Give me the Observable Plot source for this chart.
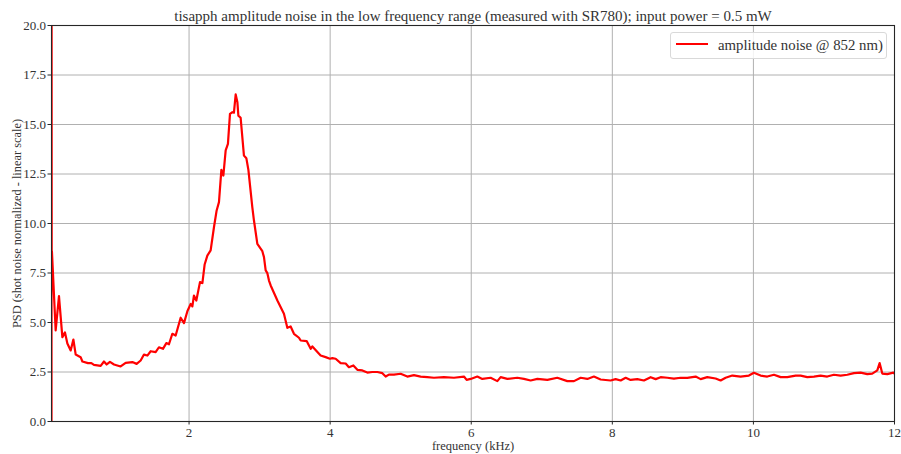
<!DOCTYPE html>
<html>
<head>
<meta charset="utf-8">
<script src="https://cdn.jsdelivr.net/npm/d3@7"></script>
<script src="https://cdn.jsdelivr.net/npm/@observablehq/plot@0.6"></script>
<style>
  html, body { margin: 0; padding: 0; background: #fff; }
  #wrap { position: relative; width: 901px; height: 454px; font-family: 'Liberation Serif', serif; }
  #wrap svg, #wrap svg text { font-family: 'Liberation Serif', serif !important; }
  #legend { position: absolute; left: 670px; top: 32px; width: 217px; height: 27px; box-sizing: border-box;
            border: 1px solid #d9d9d9; border-radius: 3px; background: rgba(255,255,255,0.85);
            font-family: 'Liberation Serif', serif; font-size: 14.8px; color: #333; }
  #legend .sw { position: absolute; left: 5px; top: 10px; width: 32px; height: 2.2px; background: #ff0000; }
  #legend .lb { position: absolute; left: 47px; top: 4px; white-space: nowrap; }
</style>
</head>
<body>
<div id="wrap"></div>
<script>
const title = "tisapph amplitude noise in the low frequency range (measured with SR780); input power = 0.5 mW";
const xLabel = "frequency (kHz)";
const yLabel = "PSD (shot noise normalized - linear scale)";
const seriesName = "amplitude noise @ 852 nm)";
const xTicks = [2, 4, 6, 8, 10, 12];
const yTicks = [0, 2.5, 5, 7.5, 10, 12.5, 15, 17.5, 20];

const freq = [
  0.050, 0.051, 0.053, 0.056, 0.109, 0.156, 0.204, 0.241, 0.275, 0.322, 0.360, 0.393, 0.463, 0.488,
  0.567, 0.615, 0.652, 0.747, 0.794, 0.832, 0.879, 0.936, 1.030, 1.101, 1.196, 1.257, 1.314, 1.361,
  1.409, 1.456, 1.526, 1.573, 1.630, 1.678, 1.715, 1.763, 1.810, 1.881, 1.928, 1.976, 2.023, 2.047,
  2.069, 2.103, 2.155, 2.189, 2.221, 2.259, 2.306, 2.353, 2.391, 2.424, 2.458, 2.486, 2.519, 2.551,
  2.580, 2.614, 2.636, 2.661, 2.685, 2.699, 2.731, 2.778, 2.812, 2.841, 2.897, 2.920, 2.968, 3.039,
  3.062, 3.086, 3.110, 3.133, 3.157, 3.252, 3.345, 3.393, 3.440, 3.487, 3.558, 3.582, 3.667, 3.724,
  3.748, 3.865, 3.936, 3.997, 4.031, 4.078, 4.149, 4.220, 4.266, 4.329, 4.386, 4.456, 4.527, 4.598,
  4.669, 4.740, 4.787, 4.833, 4.904, 4.999, 5.094, 5.188, 5.283, 5.378, 5.471, 5.613, 5.755, 5.897,
  5.935, 5.992, 6.086, 6.157, 6.275, 6.370, 6.417, 6.512, 6.653, 6.747, 6.842, 6.937, 7.079, 7.220,
  7.362, 7.456, 7.551, 7.646, 7.739, 7.834, 7.976, 8.047, 8.118, 8.189, 8.259, 8.354, 8.448, 8.543,
  8.614, 8.685, 8.780, 8.873, 8.968, 9.063, 9.181, 9.252, 9.346, 9.464, 9.535, 9.606, 9.701, 9.818,
  9.936, 10.007, 10.102, 10.197, 10.291, 10.386, 10.480, 10.598, 10.669, 10.764, 10.858, 10.952,
  11.047, 11.141, 11.236, 11.331, 11.425, 11.520, 11.614, 11.685, 11.756, 11.789, 11.827, 11.898,
  11.983, 12.000
];
const psd = [
  0.0, 22.0, 6.7, 8.6, 4.6, 6.33, 4.26, 4.5, 3.94, 3.59, 4.14, 3.38, 3.25, 3.03,
  2.95, 2.95, 2.86, 2.81, 3.03, 2.88, 3.01, 2.88, 2.78, 2.96, 3.00, 2.91, 3.08, 3.38,
  3.33, 3.55, 3.50, 3.75, 3.67, 3.96, 3.90, 4.43, 4.34, 5.24, 4.97, 5.57, 5.94, 5.81,
  6.36, 6.11, 7.04, 6.99, 7.93, 8.38, 8.64, 9.81, 10.66, 11.08, 12.71, 12.42, 13.69, 14.02,
  15.54, 15.62, 15.60, 16.52, 16.13, 15.45, 15.34, 13.43, 13.30, 12.71, 10.82, 10.15, 8.97, 8.60,
  8.30, 7.63, 7.49, 7.12, 6.87, 6.11, 5.44, 4.73, 4.80, 4.43, 4.23, 4.09, 4.06, 3.67,
  3.79, 3.33, 3.25, 3.17, 3.20, 3.17, 2.95, 2.93, 2.74, 2.83, 2.61, 2.58, 2.47, 2.50,
  2.50, 2.44, 2.27, 2.37, 2.37, 2.41, 2.27, 2.34, 2.27, 2.24, 2.21, 2.24, 2.21, 2.27,
  2.10, 2.15, 2.27, 2.15, 2.21, 2.04, 2.24, 2.15, 2.21, 2.15, 2.07, 2.15, 2.10, 2.21,
  2.04, 2.04, 2.21, 2.15, 2.27, 2.12, 2.07, 2.14, 2.07, 2.21, 2.10, 2.14, 2.07, 2.24,
  2.14, 2.24, 2.21, 2.17, 2.21, 2.20, 2.27, 2.14, 2.24, 2.17, 2.07, 2.21, 2.32, 2.27,
  2.32, 2.46, 2.32, 2.27, 2.36, 2.24, 2.24, 2.32, 2.32, 2.24, 2.27, 2.32,
  2.27, 2.36, 2.32, 2.36, 2.44, 2.47, 2.39, 2.42, 2.58, 2.95, 2.42, 2.39,
  2.47, 2.42
];

const data = freq.map((f, i) => ({f, v: psd[i]}));
const txt = "#333";

const chart = Plot.plot({
  width: 901,
  height: 454,
  marginLeft: 51,
  marginRight: 7,
  marginTop: 25,
  marginBottom: 33,
  style: {fontSize: "13px", color: txt, background: "#fff"},
  x: {domain: [0.05, 12]},
  y: {domain: [0, 20]},
  marks: [
    Plot.gridX(xTicks, {stroke: "#b0b0b0", strokeOpacity: 1, strokeWidth: 1}),
    Plot.gridY(yTicks, {stroke: "#b0b0b0", strokeOpacity: 1, strokeWidth: 1}),
    Plot.lineY(data, {x: "f", y: "v", stroke: "#ff0000", strokeWidth: 2.2, clip: true, curve: "linear"}),
    Plot.frame({stroke: "#262626", strokeWidth: 1.1}),
    Plot.axisX({ticks: xTicks, tickSize: 3.5, tickPadding: 3, label: null, fontSize: 13, stroke: "#262626"}),
    Plot.axisY({ticks: yTicks, tickSize: 3.5, tickPadding: 2, label: null, tickFormat: d => d.toFixed(1), fontSize: 13, stroke: "#262626"}),
    Plot.text([title], {frameAnchor: "top", dy: -15, text: d => d, fontSize: 15, fill: txt}),
    Plot.text([xLabel], {frameAnchor: "bottom", dy: 28, text: d => d, fontSize: 12.5, fill: txt}),
    Plot.text([yLabel], {frameAnchor: "left", textAnchor: "middle", lineAnchor: "middle", dx: -34, rotate: -90, text: d => d, fontSize: 12.4, fill: txt})
  ]
});

const wrap = document.getElementById("wrap");
wrap.appendChild(chart);
const leg = document.createElement("div");
leg.id = "legend";
leg.innerHTML = `<div class="sw"></div><div class="lb"></div>`;
leg.querySelector(".lb").textContent = seriesName;
wrap.appendChild(leg);
</script>
</body>
</html>
